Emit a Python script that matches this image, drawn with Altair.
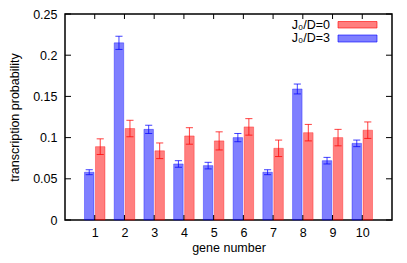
import altair as alt
import pandas as pd

genes = [1, 2, 3, 4, 5, 6, 7, 8, 9, 10]
series_names = ["J₀/D=0", "J₀/D=3"]
p_j0 = [0.089, 0.111, 0.084, 0.102, 0.096, 0.113, 0.087, 0.106, 0.100, 0.109]
err_j0 = [0.0095, 0.010, 0.0095, 0.010, 0.011, 0.010, 0.010, 0.010, 0.010, 0.010]
p_j3 = [0.058, 0.215, 0.110, 0.068, 0.066, 0.100, 0.058, 0.159, 0.072, 0.093]
err_j3 = [0.003, 0.008, 0.005, 0.004, 0.004, 0.005, 0.003, 0.006, 0.004, 0.004]
y_ticks = [0, 0.05, 0.1, 0.15, 0.2, 0.25]

rows = []
for g, v, e in zip(genes, p_j0, err_j0):
    rows.append({"gene": g, "series": series_names[0], "p": v, "err": e, "side": 1})
for g, v, e in zip(genes, p_j3, err_j3):
    rows.append({"gene": g, "series": series_names[1], "p": v, "err": e, "side": -1})
df = pd.DataFrame(rows)
ticks_df = pd.DataFrame({"t": y_ticks})
genes_df = pd.DataFrame({"gene": genes})

W, H = 327, 206
FONT = "Liberation Sans"
FS = 12.5

xs = alt.Scale(domain=[0, 11], nice=False, zero=False)
ys = alt.Scale(domain=[0, 0.25], nice=False)
XA = alt.Axis(values=genes, title="gene number", ticks=False, domain=False,
              grid=False, labelPadding=6, titlePadding=3, labelOverlap=False)
YA = alt.Axis(values=y_ticks, format=".2~f", title="transcription probability",
              ticks=False, domain=False, grid=False, labelPadding=8, titlePadding=11,
              labelOverlap=False)

color_scale = alt.Scale(domain=series_names, range=["#ff0000", "#0000ff"])

base = alt.Chart(df).transform_calculate(
    c="datum.gene + datum.side*0.185",
    x0="datum.gene + datum.side*0.185 - 0.16",
    x1="datum.gene + datum.side*0.185 + 0.16",
    lo="datum.p - datum.err",
    hi="datum.p + datum.err",
    cl="datum.gene + datum.side*0.185 - 0.12",
    cr="datum.gene + datum.side*0.185 + 0.12",
)

bars = base.mark_rect(fillOpacity=0.5, strokeOpacity=0.35, strokeWidth=1).encode(
    x=alt.X("x0:Q", scale=xs, axis=XA),
    x2="x1:Q",
    y=alt.Y("p:Q", scale=ys, axis=YA),
    y2=alt.datum(0),
    fill=alt.Color("series:N", scale=color_scale, legend=None),
    stroke=alt.Color("series:N", scale=color_scale, legend=None),
)

err_v = base.mark_rule(strokeWidth=1, opacity=0.75).encode(
    x=alt.X("c:Q", scale=xs, axis=XA), y=alt.Y("lo:Q", scale=ys, axis=YA), y2="hi:Q",
    color=alt.Color("series:N", scale=color_scale, legend=None),
)
cap_lo = base.mark_rule(strokeWidth=1, opacity=0.75).encode(
    x=alt.X("cl:Q", scale=xs, axis=XA), x2="cr:Q", y=alt.Y("lo:Q", scale=ys, axis=YA),
    color=alt.Color("series:N", scale=color_scale, legend=None),
)
cap_hi = base.mark_rule(strokeWidth=1, opacity=0.75).encode(
    x=alt.X("cl:Q", scale=xs, axis=XA), x2="cr:Q", y=alt.Y("hi:Q", scale=ys, axis=YA),
    color=alt.Color("series:N", scale=color_scale, legend=None),
)

# inner ticks (gnuplot style)
yt = alt.Chart(ticks_df)
ytl = yt.mark_rule(color="black", strokeWidth=1).encode(
    y=alt.Y("t:Q", scale=ys, axis=YA), x=alt.value(0), x2=alt.value(6))
ytr = yt.mark_rule(color="black", strokeWidth=1).encode(
    y=alt.Y("t:Q", scale=ys, axis=YA), x=alt.value(W - 6), x2=alt.value(W))
gt = alt.Chart(genes_df)
xtb = gt.mark_rule(color="black", strokeWidth=1).encode(
    x=alt.X("gene:Q", scale=xs, axis=XA), y=alt.value(H - 5), y2=alt.value(H))
xtt = gt.mark_rule(color="black", strokeWidth=1).encode(
    x=alt.X("gene:Q", scale=xs, axis=XA), y=alt.value(0), y2=alt.value(5))

# legend (inside top-right)
leg_txt0 = alt.Chart(genes_df.head(1)).mark_text(
    align="right", baseline="middle", font=FONT, fontSize=FS, color="black").encode(
    x=alt.value(265), y=alt.value(10.5), text=alt.value(series_names[0]))
leg_txt1 = alt.Chart(genes_df.head(1)).mark_text(
    align="right", baseline="middle", font=FONT, fontSize=FS, color="black").encode(
    x=alt.value(265), y=alt.value(24), text=alt.value(series_names[1]))
leg_box0 = alt.Chart(genes_df.head(1)).mark_rect(
    fill="#ff0000", fillOpacity=0.5, stroke="#ff0000", strokeOpacity=0.6).encode(
    x=alt.value(273), x2=alt.value(312), y=alt.value(7.5), y2=alt.value(14))
leg_box1 = alt.Chart(genes_df.head(1)).mark_rect(
    fill="#0000ff", fillOpacity=0.5, stroke="#0000ff", strokeOpacity=0.6).encode(
    x=alt.value(273), x2=alt.value(312), y=alt.value(21), y2=alt.value(28))

chart = alt.layer(bars, err_v, cap_lo, cap_hi, ytl, ytr, xtb, xtt,
                  leg_box0, leg_box1, leg_txt0, leg_txt1).properties(
    width=W, height=H,
    autosize=alt.AutoSizeParams(type="none"),
    padding={"left": 57, "top": 6, "right": 7, "bottom": 35},
).configure_view(stroke="black", strokeWidth=1.5).configure_axis(
    labelFont=FONT, titleFont=FONT, labelFontSize=FS, titleFontSize=FS,
    labelColor="black", titleColor="black", titleFontWeight="normal",
)

chart.save("out.html", embed_options={"renderer": "svg", "actions": False})
